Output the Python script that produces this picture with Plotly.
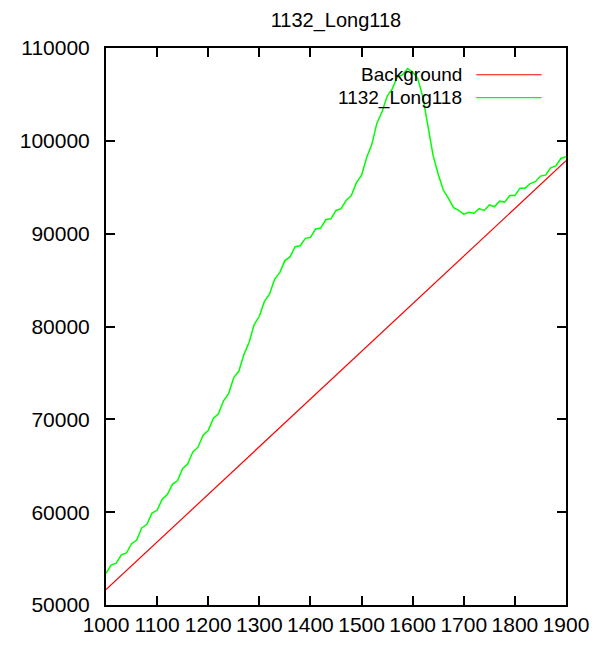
import plotly.graph_objects as go

# ---- data ----
x_signal = list(range(1000, 1901, 10))
y_signal = [
    53400, 54300, 54500, 55400, 55600, 56600, 57000, 58300, 58700, 59900,
    60200, 61400, 61900, 63000, 63400, 64700, 65200, 66500, 67000, 68300,
    68800, 70100, 70600, 72000, 72800, 74500, 75200, 77000, 78300, 80200,
    81100, 82700, 83500, 85100, 85800, 87100, 87500, 88600, 88700, 89500,
    89600, 90500, 90600, 91500, 91600, 92500, 92700, 93600, 94100, 95500,
    96300, 98200, 99600, 101900, 103100, 104800, 105600, 106900, 107100, 107800,
    107400, 106700, 104700, 101600, 98400, 96400, 94700, 93800, 92800, 92500,
    92100, 92300, 92200, 92700, 92500, 93100, 92900, 93500, 93400, 94100,
    94100, 94900, 94900, 95400, 95600, 96200, 96300, 97100, 97300, 98100,
    98300, 99000,
][:len(x_signal)]

x_background = [1000, 1900]
y_background = [51650, 97850]

series_names = ["Background", "1132_Long118"]
series_colors = ["#ff0000", "#00ff00"]
chart_title = "1132_Long118"

x_ticks = list(range(1000, 1901, 100))
y_ticks = list(range(50000, 110001, 10000))

FONT = "Liberation Sans, Arial, sans-serif"
FS = 21

fig = go.Figure()
fig.add_trace(go.Scatter(x=x_background, y=y_background, mode="lines",
                         line=dict(color=series_colors[0], width=1.2),
                         name=series_names[0], showlegend=False))
fig.add_trace(go.Scatter(x=x_signal, y=y_signal, mode="lines",
                         line=dict(color=series_colors[1], width=1.5),
                         name=series_names[1], showlegend=False))

axis_common = dict(
    showline=True, linecolor="black", linewidth=2, mirror="ticks",
    ticks="inside", ticklen=9, tickwidth=2, tickcolor="black",
    showgrid=False, zeroline=False,
    tickfont=dict(family=FONT, size=FS, color="black"),
)
fig.update_xaxes(range=[1000, 1900], tickvals=x_ticks, tickformat="d", **axis_common)
fig.update_yaxes(range=[50000, 110000], tickvals=y_ticks, tickformat="d",
                 ticklabelstandoff=10, **axis_common)

# manual gnuplot-style legend (text left of sample line)
legend_y = [0.952, 0.911]
for name, color, ly in zip(series_names, series_colors, legend_y):
    fig.add_annotation(xref="paper", yref="paper", x=0.776, y=ly, text=name,
                       showarrow=False, xanchor="right", yanchor="middle",
                       borderpad=0,
                       font=dict(family=FONT, size=19, color="black"))
    fig.add_shape(type="line", xref="paper", yref="paper",
                  x0=0.805, x1=0.947, y0=ly, y1=ly,
                  line=dict(color=color, width=1.2))

fig.update_layout(
    width=593, height=640,
    margin=dict(l=88, r=32, t=40, b=35),
    paper_bgcolor="white", plot_bgcolor="white",
    title=dict(text=chart_title, x=0.5, xref="paper", xanchor="center",
               y=1 - 12 / 640, yanchor="middle",
               font=dict(family=FONT, size=20, color="black")),
    showlegend=False,
)

fig.write_html("out.html")
